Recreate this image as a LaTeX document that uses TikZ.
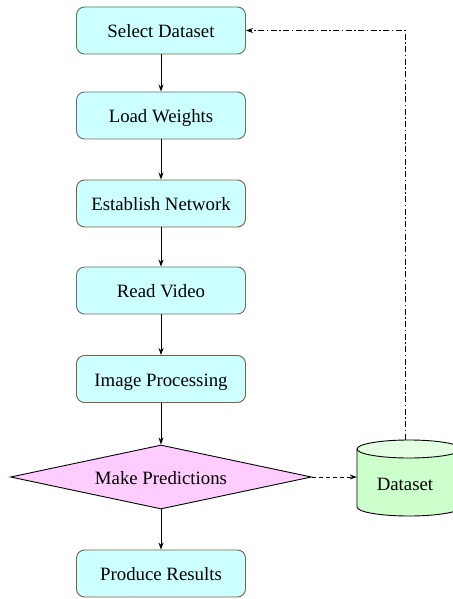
\documentclass[tikz,border=0pt]{standalone}
\usepackage{fontspec}
\setmainfont{Liberation Serif}
\usetikzlibrary{shapes.geometric,arrows.meta}

\definecolor{boxfill}{HTML}{CCFFFF}
\definecolor{decfill}{HTML}{FFCCFF}
\definecolor{dbfill}{HTML}{CCFFCC}
\definecolor{dbtop}{HTML}{E2FFE2}
\definecolor{edgegreen}{RGB}{80,125,75}
\definecolor{edgegray}{RGB}{110,110,110}
\definecolor{edgebrown}{RGB}{125,95,65}

\tikzset{
  x=1pt, y=-1pt,
  every node/.style={font=\fontsize{18.8}{22}\selectfont,
    text height=16pt, text depth=1.6pt},
  stepbox/.style={rectangle, rounded corners=8pt, fill=boxfill, line width=0.9pt,
    minimum width=169pt, minimum height=47pt, inner sep=0pt},
  decision/.style={diamond, fill=decfill, draw=black, line width=0.9pt,
    minimum width=301pt, minimum height=64pt, inner sep=0pt, aspect=4.7},
  flow/.style={-{Stealth[length=7pt,width=5pt]}, line width=0.9pt},
  store/.style={-{Stealth[length=7pt,width=5pt]}, line width=0.9pt,
    dash pattern=on 4pt off 3pt},
  feedback/.style={-{Stealth[length=7pt,width=5pt]}, line width=0.9pt,
    dash pattern=on 6pt off 2.5pt on 1.5pt off 2.5pt},
}

\begin{document}
\begin{tikzpicture}
\useasboundingbox (0,0) rectangle (452,599);

% main pipeline
\node[stepbox, draw=edgegreen] (sel)  at (161,30.5)  {Select Dataset};
\node[stepbox, draw=edgegray]  (load) at (161,115.5) {Load Weights};
\node[stepbox, draw=edgebrown] (net)  at (161,203.5) {Establish Network};
\node[stepbox, draw=edgegray]  (vid)  at (161,290.5) {Read Video};
\node[stepbox, draw=edgebrown] (proc) at (161,379)   {Image Processing};
\node[decision] (pred) at (161,477) {Make Predictions};
\node[stepbox, draw=edgebrown] (res)  at (161,573.5) {Produce Results};

% dataset store: a cylinder drawn around the node's box (its right side runs off the page)
\node[minimum width=104pt, minimum height=76pt, inner sep=0pt] (data) at (409,478) {};
\fill[dbfill] (357,449) -- (357,507)
  .. controls (357,511.97) and (380.28,516) .. (409,516)
  .. controls (437.72,516) and (461,511.97) .. (461,507) -- (461,449) -- cycle;
\filldraw[fill=dbtop, line width=0.9pt] (409,449) ellipse [x radius=52pt, y radius=9pt];
\draw[line width=0.9pt] (357,449) -- (357,507)
  .. controls (357,511.97) and (380.28,516) .. (409,516)
  .. controls (437.72,516) and (461,511.97) .. (461,507) -- (461,449);
\node (datalabel) at (405,483) {Dataset};
\coordinate (datatop) at ([xshift=-4pt]data.north);

\draw[flow] (sel) -- (load);
\draw[flow] (load) -- (net);
\draw[flow] (net) -- (vid);
\draw[flow] (vid) -- (proc);
\draw[flow] (proc) -- (pred);
\draw[flow] (pred) -- (res);
\draw[store] (pred.east) -- (pred.east -| data.west);
\draw[feedback] (datatop) |- (sel.east);
\end{tikzpicture}
\end{document}
